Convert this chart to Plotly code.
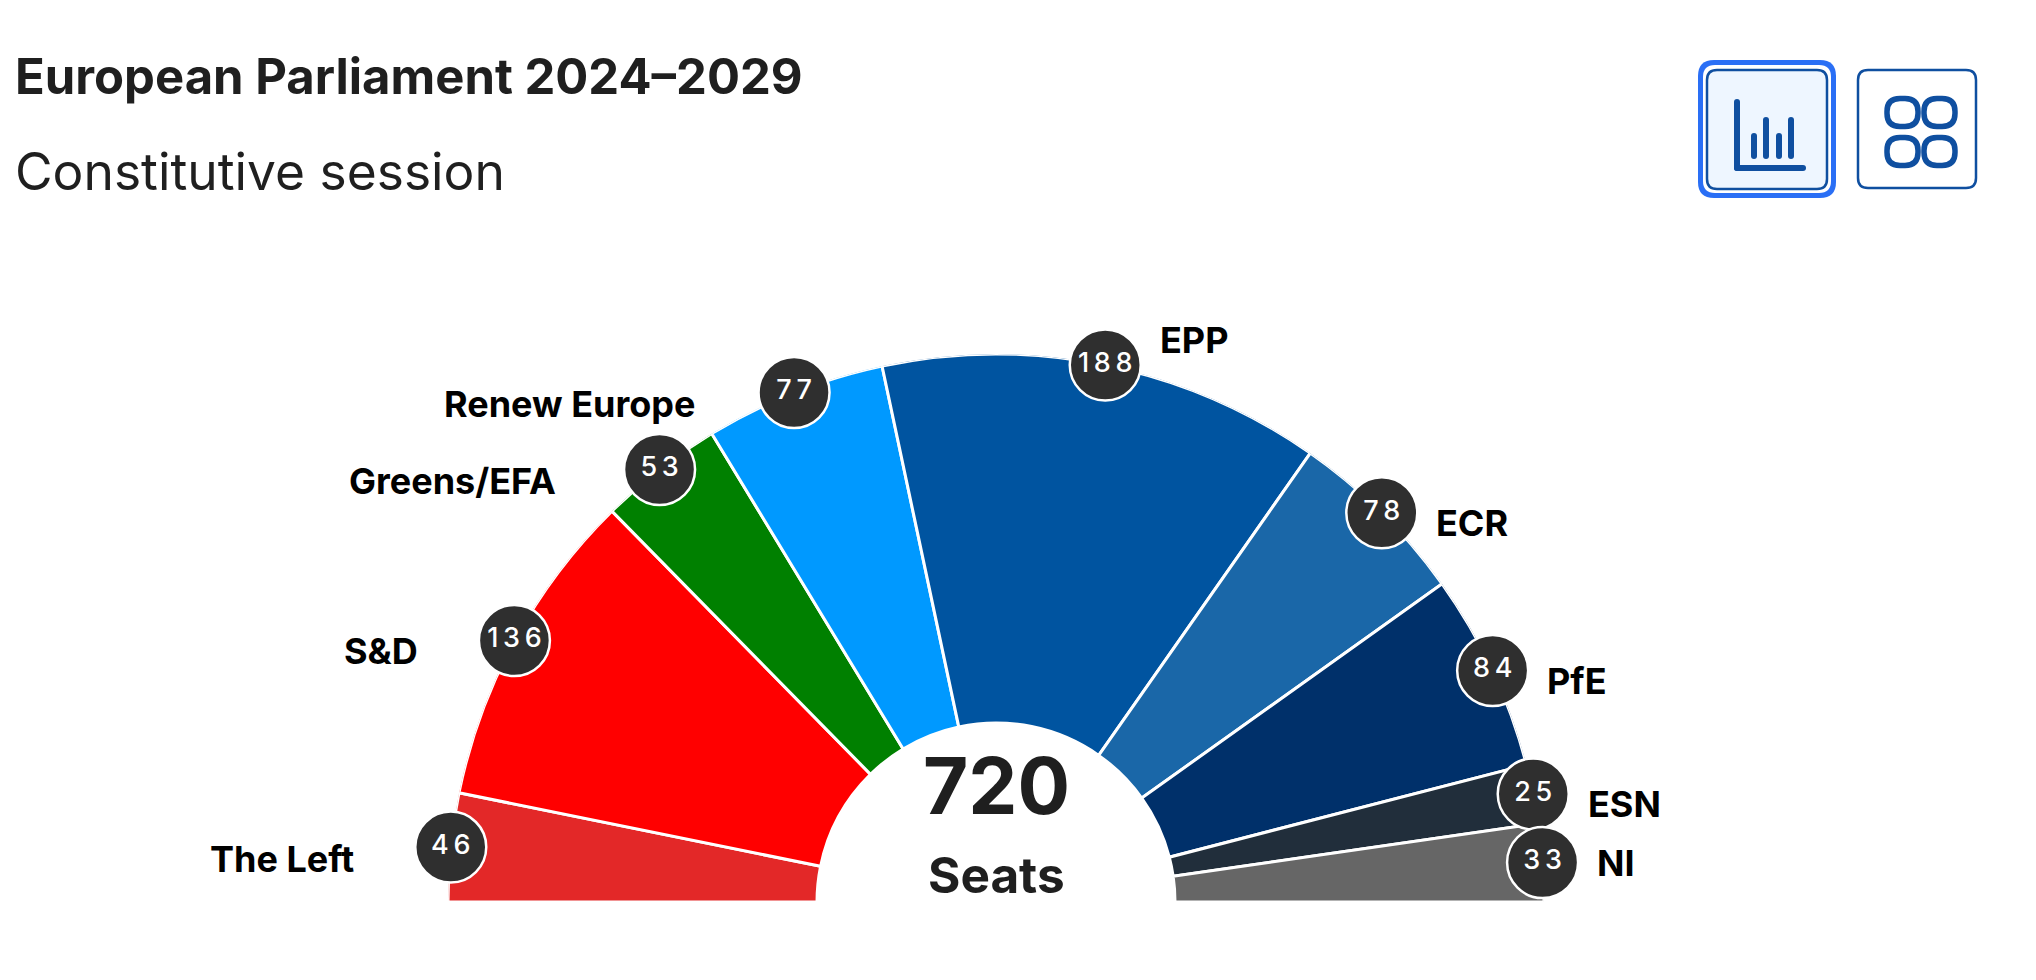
import numpy as np
import plotly.graph_objects as go

parties = ["The Left", "S&D", "Greens/EFA", "Renew Europe", "EPP", "ECR", "PfE", "ESN", "NI"]
seats = [46, 136, 53, 77, 188, 78, 84, 25, 33]
colors = ["#e32828", "#ff0000", "#008000", "#0099ff", "#0054a0", "#1a67a8", "#00306a", "#212e3b", "#666666"]
total_label = "720"
total_caption = "Seats"
title = "European Parliament 2024\u20132029"
subtitle = "Constitutive session"

# layout (page pixels)
label_xy = [(282, 859), (381, 651), (452, 481), (569, 404), (1194, 340),
            (1472, 523), (1577, 681), (1624, 804), (1616, 863)]
CX, CY, R, R_IN = 996, 902, 548, 179
OFF = 8
W, H = 2020, 964
FONT = "Inter"


def X(px):
    return (px - OFF) / W


def Y(py):
    return 1 - (py - OFF) / H


def rrect(x0, y0, x1, y1, r):
    a, b, c, d = X(x0), X(x1), Y(y0), Y(y1)
    rx, ry = r / W, r / H
    return (f"M {a+rx} {c} L {b-rx} {c} Q {b} {c} {b} {c-ry} L {b} {d+ry} Q {b} {d} {b-rx} {d} "
            f"L {a+rx} {d} Q {a} {d} {a} {d+ry} L {a} {c-ry} Q {a} {c} {a+rx} {c} Z")


def box(x0, y0, x1, y1, r, fill="rgba(0,0,0,0)", line=None, lw=0):
    return dict(type="path", xref="paper", yref="paper", path=rrect(x0, y0, x1, y1, r),
                fillcolor=fill, line=dict(color=line or "rgba(0,0,0,0)", width=lw))


vals = np.array(seats, dtype=float)
scale = 180 / vals.sum()
starts = np.concatenate([[0], np.cumsum(vals)[:-1]]) * scale
widths = vals * scale
mids = starts + widths / 2

fig = go.Figure()
fig.add_trace(go.Barpolar(
    theta=mids, width=widths, base=[R_IN] * len(seats), r=[R - R_IN] * len(seats),
    marker=dict(color=colors, line=dict(color="white", width=3)),
    text=parties, hoverinfo="text", showlegend=False,
))
fig.add_trace(go.Scatterpolar(
    theta=mids, r=[R] * len(seats), mode="markers+text",
    text=["\u2009".join(str(v)) for v in seats],
    textposition="middle center",
    textfont=dict(family=FONT, size=27, color="white", weight=500),
    marker=dict(size=71, color="#2f2f2f", line=dict(color="white", width=2.5)),
    cliponaxis=False, hoverinfo="skip", showlegend=False,
))

ann = [dict(text=p, x=X(x), y=Y(y), xref="paper", yref="paper", showarrow=False,
            xanchor="center", yanchor="middle",
            font=dict(family=FONT, size=36, color="#000000", weight=700))
       for p, (x, y) in zip(parties, label_xy)]
ann += [
    dict(text=title, x=X(13), y=Y(77), xref="paper", yref="paper", showarrow=False, xanchor="left",
         yanchor="middle", font=dict(family=FONT, size=49, color="#1f1f1f", weight=700)),
    dict(text=subtitle, x=X(13), y=Y(171), xref="paper", yref="paper", showarrow=False, xanchor="left",
         yanchor="middle", font=dict(family=FONT, size=51.5, color="#1f1f1f", weight=400)),
    dict(text=total_label, x=X(CX), y=Y(785), xref="paper", yref="paper", showarrow=False,
         yanchor="middle", font=dict(family=FONT, size=78, color="#1f1f1f", weight=700)),
    dict(text=total_caption, x=X(CX), y=Y(875), xref="paper", yref="paper", showarrow=False,
         yanchor="middle", font=dict(family=FONT, size=49.5, color="#1f1f1f", weight=700)),
]

INK = "#0f4fa0"
shapes = [
    box(1698, 60, 1836, 198, 16, fill="#2a6ff5"),
    box(1703, 65, 1831, 193, 12, fill="white"),
    box(1707, 70, 1827, 189, 10, fill="#eef6ff", line=INK, lw=2.5),
    box(1734, 99, 1740, 171, 3, fill=INK),
    box(1734, 165, 1806, 171, 3, fill=INK),
    box(1751, 133, 1757, 159, 3, fill=INK),
    box(1763, 117, 1769, 159, 3, fill=INK),
    box(1776, 133, 1782, 159, 3, fill=INK),
    box(1788, 117, 1794, 159, 3, fill=INK),
    box(1858, 70, 1976, 188, 10, fill="white", line=INK, lw=2.5),
]
for x0 in (1887, 1924):
    for y0 in (98.5, 137.5):
        shapes.append(box(x0, y0, x0 + 31, y0 + 28, 13, line=INK, lw=5.5))

fig.update_layout(
    width=W, height=H, margin=dict(l=0, r=0, t=0, b=0), autosize=False,
    paper_bgcolor="white", plot_bgcolor="white", showlegend=False,
    polar=dict(
        domain=dict(x=[X(CX - R), X(CX + R)], y=[Y(CY), Y(CY - R)]),
        sector=[0, 180], bgcolor="rgba(0,0,0,0)",
        radialaxis=dict(visible=False, range=[0, R]),
        angularaxis=dict(visible=False, direction="clockwise", rotation=180, thetaunit="degrees"),
        barmode="overlay",
    ),
    annotations=ann, shapes=shapes,
)
fig.write_html("out.html")
